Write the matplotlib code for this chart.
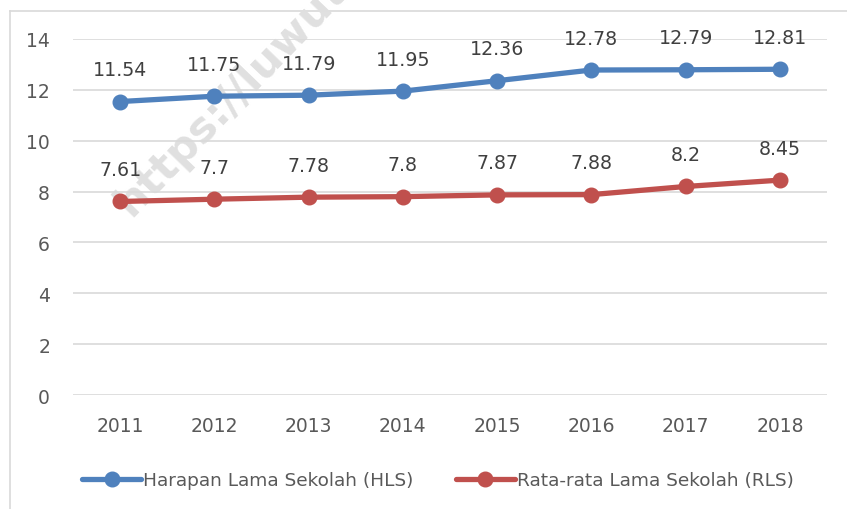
import matplotlib
matplotlib.use("Agg")
import matplotlib.pyplot as plt
from matplotlib.lines import Line2D

years = ["2011", "2012", "2013", "2014", "2015", "2016", "2017", "2018"]
hls = [11.54, 11.75, 11.79, 11.95, 12.36, 12.78, 12.79, 12.81]
rls = [7.61, 7.7, 7.78, 7.8, 7.87, 7.88, 8.2, 8.45]
hls_labels = ["11.54", "11.75", "11.79", "11.95", "12.36", "12.78", "12.79", "12.81"]
rls_labels = ["7.61", "7.7", "7.78", "7.8", "7.87", "7.88", "8.2", "8.45"]
series_names = ["Harapan Lama Sekolah (HLS)", "Rata-rata Lama Sekolah (RLS)"]
yticks = [0, 2, 4, 6, 8, 10, 12, 14]

W, H = 847, 510
fig = plt.figure(figsize=(W / 100, H / 100), dpi=100)
fig.patch.set_facecolor("white")

# chart border (partially cropped): top and left edges only
bx, by = 9.5 / W, 1 - 11.5 / H
fig.lines.append(Line2D([bx, 1.2], [by, by], transform=fig.transFigure,
                        color="#d9d9d9", lw=1.2, zorder=-5))
fig.lines.append(Line2D([bx, bx], [by, -0.2], transform=fig.transFigure,
                        color="#d9d9d9", lw=1.2, zorder=-5))

# watermark (behind the plot)
fig.text(131 / W, 1 - 218 / H, "https://luwutimurkab.bps.go.id", rotation=46,
         fontsize=31, fontweight="bold", color="#e0e0e0",
         ha="left", va="baseline", rotation_mode="anchor", zorder=-1)

ax = fig.add_axes([73 / W, 1 - 396 / H, (827 - 73) / W, (396 - 40) / H])
ax.patch.set_alpha(0)
ax.set_xlim(-0.5, len(years) - 0.5)
ax.set_ylim(0, 14)
ax.set_yticks(yticks)
ax.set_yticklabels([str(v) for v in yticks])
ax.set_xticks(range(len(years)))
ax.set_xticklabels(years)
for s in ax.spines.values():
    s.set_visible(False)
ax.grid(axis="y", color="#d9d9d9", linewidth=1.2)
ax.set_axisbelow(True)
ax.tick_params(length=0, labelsize=13.5, colors="#595959")
ax.tick_params(axis="x", pad=15)
ax.tick_params(axis="y", pad=16.5)

x = range(len(years))
blue = "#4f81bd"
red = "#c0504d"
l1, = ax.plot(x, hls, color=blue, lw=3.8, marker="o", ms=10.5, solid_capstyle="round",
              label=series_names[0], zorder=3)
l2, = ax.plot(x, rls, color=red, lw=3.8, marker="o", ms=10.5, solid_capstyle="round",
              label=series_names[1], zorder=3)

for xi, v, t in zip(x, hls, hls_labels):
    ax.annotate(t, (xi, v), xytext=(0, 23), textcoords="offset points", ha="center",
                va="center", fontsize=13.7, color="#404040")
for xi, v, t in zip(x, rls, rls_labels):
    ax.annotate(t, (xi, v), xytext=(0, 23), textcoords="offset points", ha="center",
                va="center", fontsize=13.7, color="#404040")

leg = fig.legend(handles=[l1, l2], loc="center left", bbox_to_anchor=(82 / W, 1 - 481 / H),
                 ncol=2, frameon=False, borderpad=0, borderaxespad=0, handlelength=3.2,
                 handletextpad=0.1, columnspacing=2.3,
                 prop={"size": 13.3})
for t in leg.get_texts():
    t.set_color("#595959")

fig.savefig("out.png", dpi=100)
